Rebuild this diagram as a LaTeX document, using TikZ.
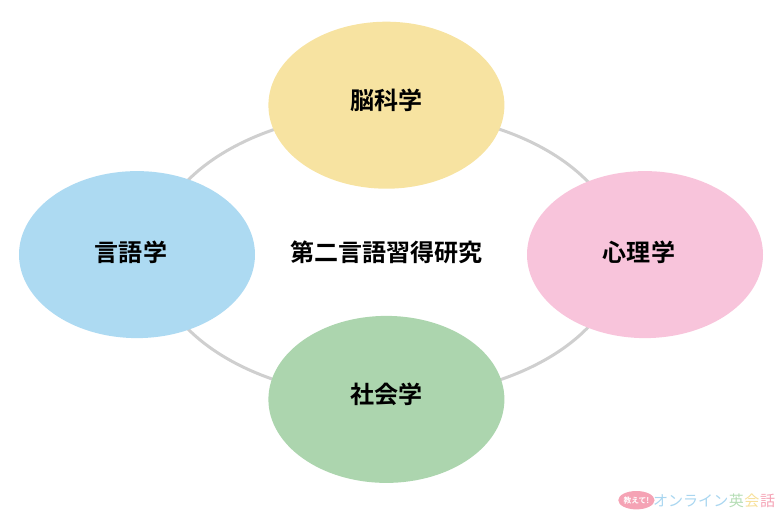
\documentclass[tikz,border=0pt]{standalone}
\usepackage{fontspec}
\usetikzlibrary{shapes.geometric}
\newfontfamily\jpfont{Noto Sans CJK JP}
\newfontfamily\jpbold{Noto Sans CJK JP Bold}
\definecolor{brainfill}{HTML}{F7E3A1}
\definecolor{langfill}{HTML}{ADDAF2}
\definecolor{mindfill}{HTML}{F8C4DB}
\definecolor{socfill}{HTML}{ACD5AE}
\definecolor{ringline}{HTML}{CFCFCF}
\definecolor{logoblue}{HTML}{A9D6F0}
\definecolor{logogreen}{HTML}{B5DDB5}
\definecolor{logoyellow}{HTML}{F7E09A}
\definecolor{logopink}{HTML}{F5A3B5}
\tikzset{
	field/.style={ellipse, minimum width=5.9cm, minimum height=4.175cm, inner sep=0pt},
	caption/.style={inner sep=0pt, font=\jpbold\fontsize{17.1}{19}\selectfont},
	logotext/.style={inner sep=0pt, font=\jpfont\fontsize{10.7}{12}\selectfont}
}

\begin{document}
\begin{tikzpicture}
				\useasboundingbox (0, 0) rectangle (19.5, 12.775);
				
				\node[ellipse, draw=ringline, line width=0.075cm, minimum width=11.66cm, minimum height=7.15cm, inner sep=0pt] (ring) at (9.68, 6.41) {};
				
				\node[field, fill=brainfill] (brain) at (9.66, 10.145) {};
				\node[field, fill=langfill] (lang) at (3.425, 6.41) {};
				\node[field, fill=mindfill] (mind) at (16.125, 6.41) {};
				\node[field, fill=socfill] (soc) at (9.66, 2.79) {};
				
				\node[caption] (brainlabel) at (9.66, 10.27) {脳科学};
				\node[caption] (langlabel) at (3.275, 6.47) {言語学};
				\node[caption] (mindlabel) at (15.975, 6.47) {心理学};
				\node[caption] (soclabel) at (9.66, 2.92) {社会学};
				
				\node[caption] (sla) at (9.66, 6.47) {第二言語習得研究};
				
				% logo
				\node[ellipse, fill=logopink, minimum width=0.8cm, minimum height=0.46cm, inner sep=0pt, text=white, font=\jpbold\fontsize{5.5}{5}\selectfont] (teach) at (15.91, 0.27) {教えて!};
				\node[logotext, text=logoblue, anchor=west] (online) at (16.32, 0.26) {オンライン};
				\node[logotext, text=logogreen, anchor=west] (ei) at (online.east) {英};
				\node[logotext, text=logoyellow, anchor=west] (kai) at (ei.east) {会};
				\node[logotext, text=logopink, anchor=west] (wa) at (kai.east) {話};
			\end{tikzpicture}
\end{document}
